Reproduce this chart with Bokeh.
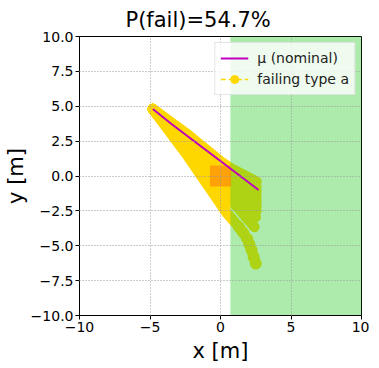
from bokeh.plotting import figure
from bokeh.models import FixedTicker, Legend, LegendItem, ColumnDataSource
from bokeh.embed import file_html
from bokeh.resources import INLINE

# ---- data ----
title_text = "P(fail)=54.7%"
x_ticks = [-10, -5, 0, 5, 10]
y_ticks = [-10.0, -7.5, -5.0, -2.5, 0.0, 2.5, 5.0, 7.5, 10.0]

# failing trajectories (centres of the yellow circle chains)
traj_x = [
    [-4.8, -2.3, 0.0, 0.75, 2.55],
    [-4.8, -2.3, 0.0, 0.8, 2.55],
    [-4.8, -2.3, 0.0, 0.8, 2.55],
    [-4.8, -2.3, 0.0, 0.8, 2.55],
    [-4.8, -2.3, 0.0, 0.8, 2.55],
    [-4.8, -2.3, 0.0, 0.8, 2.55],
    [-4.8, -2.3, 0.0, 0.8, 2.55],
    [-4.8, -2.3, -0.05, 0.9, 2.5],
    [-4.8, -2.3, -0.1, 1.16, 2.4],
    [-4.8, -2.3, 0.45, 1.3, 1.9, 2.2, 2.5],
]
traj_y = [
    [4.8, 2.95, 1.05, 0.55, -0.4],
    [4.8, 2.75, 0.7, 0.2, -0.75],
    [4.8, 2.55, 0.35, -0.15, -1.1],
    [4.8, 2.35, 0.0, -0.5, -1.45],
    [4.8, 2.15, -0.35, -0.85, -1.8],
    [4.8, 1.95, -0.7, -1.2, -2.15],
    [4.8, 1.8, -1.0, -1.5, -2.5],
    [4.8, 1.65, -1.1, -1.7, -2.95],
    [4.8, 1.55, -1.2, -2.17, -3.65],
    [4.8, 1.4, -2.65, -3.65, -4.5, -5.3, -6.28],
]
bead_x = [1.3, 1.6, 1.9, 2.05, 2.2, 2.35, 2.5]
bead_y = [-3.65, -4.05, -4.5, -4.9, -5.3, -5.8, -6.28]

# nominal trajectory mu
mu_x = [-4.8, -3.5, -2.0, -0.5, 1.0, 2.7]
mu_y = [4.8, 3.75, 2.6, 1.45, 0.3, -1.0]

# failure region (green) and start box (orange)
green_left, green_right = 0.7, 10.0
box_left, box_right, box_bottom, box_top = -0.75, 0.75, -0.75, 0.75

FONT = "DejaVu Sans"

p = figure(
    output_backend="svg", toolbar_location=None,
    frame_width=282, frame_height=279,
    min_border_left=73, min_border_right=8, min_border_top=29, min_border_bottom=44,
    x_range=(-10, 10), y_range=(-10, 10),
    title=title_text,
)
p.background_fill_color = "white"
p.border_fill_color = "white"
p.outline_line_color = "black"
p.outline_line_width = 1

p.title.align = "left"
p.title.offset = 46
p.title.text_font = FONT
p.title.text_font_size = "21px"
p.title.text_font_style = "normal"
p.title.text_color = "black"

# yellow failing trajectories
p.multi_line(traj_x, traj_y, line_color="#FFD700", line_width=10.5,
             line_cap="round", line_join="round")
p.scatter(bead_x, bead_y, size=11, marker="circle",
          fill_color="#FFD700", line_color="#FFD700")

# green region on top (translucent)
p.quad(left=[green_left], right=[green_right], bottom=[-10], top=[10],
       fill_color="limegreen", fill_alpha=0.4, line_color=None)

# orange start box
p.quad(left=[box_left], right=[box_right], bottom=[box_bottom], top=[box_top],
       fill_color="#ff7f0e", fill_alpha=0.6, line_color=None)

# nominal line
mu_r = p.line(mu_x, mu_y, line_color="#bf00bf", line_width=2)

# dummy renderers for legend (off-screen)
offs = ColumnDataSource(data=dict(x=[-100, -101], y=[-100, -101]))
dl = p.line("x", "y", source=offs, line_color="#FFD700", line_width=1.5, line_dash="5 3")
ds = p.scatter("x", "y", source=offs, size=11, marker="circle",
               fill_color="#FFD700", line_color="#FFD700")

legend = Legend(items=[
    LegendItem(label="μ (nominal)", renderers=[mu_r]),
    LegendItem(label="failing type a", renderers=[dl, ds]),
], location="top_right")
legend.label_text_font = FONT
legend.label_text_font_size = "14px"
legend.label_text_color = "#222222"
legend.background_fill_color = "white"
legend.background_fill_alpha = 0.8
legend.border_line_color = "#cccccc"
legend.border_line_width = 1
legend.glyph_width = 28
legend.glyph_height = 20
legend.label_height = 20
legend.padding = 5
legend.spacing = 1
legend.margin = 6
legend.label_standoff = 9
p.add_layout(legend)

# grid
for g in (p.xgrid, p.ygrid):
    g.grid_line_color = "#999999"
    g.grid_line_alpha = 1.0
    g.grid_line_dash = "1 2"
    g.grid_line_width = 1
    g.level = "guide"
p.xgrid.ticker = FixedTicker(ticks=x_ticks)
p.ygrid.ticker = FixedTicker(ticks=y_ticks)

# axes
p.xaxis.ticker = FixedTicker(ticks=x_ticks)
p.yaxis.ticker = FixedTicker(ticks=y_ticks)
p.xaxis.major_label_overrides = {t: (f"{t}".replace("-", "\u2212")) for t in x_ticks}
p.yaxis.major_label_overrides = {t: (f"{t:.1f}".replace("-", "\u2212")) for t in y_ticks}
for ax in (p.xaxis, p.yaxis):
    ax.axis_line_color = "black"
    ax.major_tick_line_color = "black"
    ax.major_tick_out = 4
    ax.major_tick_in = 0
    ax.minor_tick_out = 0
    ax.minor_tick_in = 0
    ax.major_label_text_font = FONT
    ax.major_label_text_font_size = "14px"
    ax.major_label_text_color = "black"
    ax.major_label_standoff = 2
    ax.axis_label_text_font = FONT
    ax.axis_label_text_font_size = "21px"
    ax.axis_label_text_font_style = "normal"
    ax.axis_label_text_color = "black"
    ax.axis_label_standoff = 0
p.xaxis.axis_label = "x [m]"
p.yaxis.axis_label = "y [m]"
p.xaxis.axis_label_standoff = 4

open("out.html", "w").write(file_html(p, INLINE))
